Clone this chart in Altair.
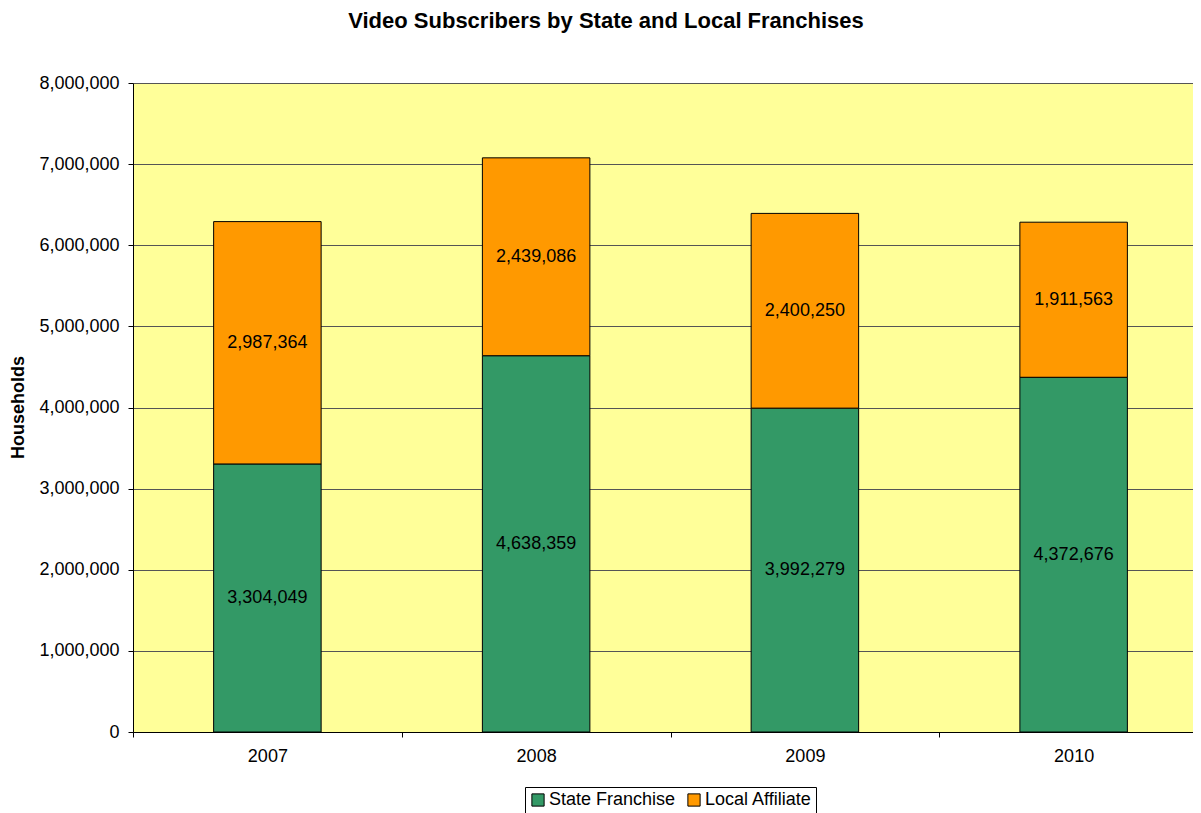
import altair as alt
import pandas as pd

years = ["2007", "2008", "2009", "2010"]
state_franchise = [3304049, 4638359, 3992279, 4372676]
local_affiliate = [2987364, 2439086, 2400250, 1911563]
series = ["State Franchise", "Local Affiliate"]
colors = ["#339966", "#FF9900"]
y_ticks = [0, 1000000, 2000000, 3000000, 4000000, 5000000, 6000000, 7000000, 8000000]

FONT = "Liberation Sans"

rows = []
for i, yr in enumerate(years):
    s = state_franchise[i]
    l = local_affiliate[i]
    rows.append({"year": yr, "series": series[0], "value": s, "start": 0, "end": s, "mid": s / 2, "order": 0})
    rows.append({"year": yr, "series": series[1], "value": l, "start": s, "end": s + l, "mid": s + l / 2, "order": 1})
df = pd.DataFrame(rows)

x_enc = alt.X(
    "year:N",
    sort=years,
    scale=alt.Scale(paddingInner=0, paddingOuter=0, range=[0, 1075]),
    axis=alt.Axis(
        title=None,
        labelAngle=0,
        tickBand="extent",
        tickSize=5,
        tickColor="black",
        domainColor="black",
        labelColor="black",
        labelFont=FONT,
        labelFontSize=18,
        labelPadding=10,
        grid=False,
    ),
)

base = alt.Chart(df)

bars = base.mark_bar(width={"band": 0.4}, stroke="black", strokeWidth=1).encode(
    x=x_enc,
    y=alt.Y(
        "start:Q",
        scale=alt.Scale(domain=[0, 8000000]),
        axis=alt.Axis(
            title="Households",
            values=y_ticks,
            format=",d",
            tickSize=5,
            tickColor="black",
            domainColor="black",
            gridColor="#555555",
            labelColor="black",
            labelFont=FONT,
            labelFontSize=18,
            labelPadding=9,
            titleFont=FONT,
            titleFontSize=18,
            titleFontWeight="bold",
            titleColor="black",
            titleAngle=270,
            titleAlign="center",
            titleBaseline="middle",
            titleX=-115,
            titleY=324,
        ),
    ),
    y2="end:Q",
    color=alt.Color(
        "series:N",
        scale=alt.Scale(domain=series, range=colors),
        legend=alt.Legend(
            title=None,
            orient="none",
            direction="horizontal",
            legendX=392,
            legendY=704,
            symbolType="square",
            symbolSize=150,
            symbolStrokeColor="black",
            symbolStrokeWidth=1,
            symbolOpacity=1,
            labelFont=FONT,
            labelFontSize=18,
            labelColor="black",
            labelOffset=2,
            columnPadding=9,
            padding=4,
            strokeColor="black",
            fillColor="white",
        ),
    ),
    order=alt.Order("order:Q"),
)

labels = base.mark_text(font=FONT, fontSize=18, color="black").encode(
    x=alt.X("year:N", sort=years),
    y=alt.Y("mid:Q"),
    text=alt.Text("value:Q", format=",d"),
)

chart = (
    alt.layer(bars, labels)
    .properties(
        width=1060,
        height=649,
        autosize="none",
        padding={"left": 125, "top": 75, "right": 0, "bottom": 90},
        title=alt.TitleParams(
            text="Video Subscribers by State and Local Franchises",
            font=FONT,
            fontSize=22,
            fontWeight="bold",
            color="black",
            anchor="middle",
            dx=-57,
            offset=31,
            baseline="middle",
        ),
    )
    .configure_view(fill="#FFFF99", stroke="transparent")
)

chart.save("out.html", embed_options={"renderer": "svg", "actions": False})
